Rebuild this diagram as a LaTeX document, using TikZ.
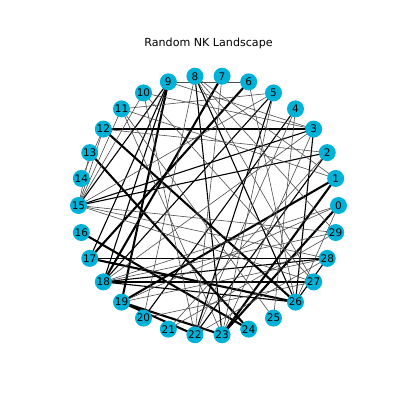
\documentclass[tikz,border=0pt]{standalone}
\usepackage{fontspec}
\setmainfont{DejaVu Sans}
\definecolor{nodec}{RGB}{0,178,215}
\pgfdeclarelayer{bg}
\pgfsetlayers{bg,main}
\begin{document}
\begin{tikzpicture}[x=1pt,y=1pt,
  nd/.style={circle,fill=nodec,minimum size=17pt,inner sep=0pt,font=\fontsize{10.5}{11}\selectfont},
  ethin/.style={line width=0.6pt,black!70},
  emid/.style={line width=1.1pt,black},
  ethick/.style={line width=2.1pt,black}]
\useasboundingbox (0,0) rectangle (407,407);
\node[font=\fontsize{11.1}{12}\selectfont] (title) at (208.5,364) {Random NK Landscape};
\foreach \i in {0,...,29} {
  \node[nd] (n\i) at ({208.5+130*cos(12*\i)},{201.5+130*sin(12*\i)}) {\i};
}
\begin{pgfonlayer}{bg}
\foreach \a/\b in {12/3,18/27,17/26,1/19,1/23,9/19,7/18,6/17,16/24,19/22,19/23,12/26,13/24,0/23}
  \draw[ethick] (n\a.center) -- (n\b.center);
\foreach \a/\b in {17/28,18/28,18/26,8/26,9/17,9/15,9/18,5/18,4/20,3/26,15/3,15/2,8/23,5/22,2/22,26/28}
  \draw[emid] (n\a.center) -- (n\b.center);
\foreach \a/\b in {9/6,8/27,8/29,8/1,8/20,7/22,6/26,5/15,5/11,10/3,9/3,12/2,15/29,15/28,15/27,10/22,11/25,0/19,29/21,12/15,13/15,11/15,10/15,4/22,4/25,5/23,3/23,28/22,18/29,18/0,3/18,11/23,10/27,2/21,28/19,27/20,14/12,1/11,0/26}
  \draw[ethin] (n\a.center) -- (n\b.center);
\end{pgfonlayer}
\end{tikzpicture}
\end{document}
